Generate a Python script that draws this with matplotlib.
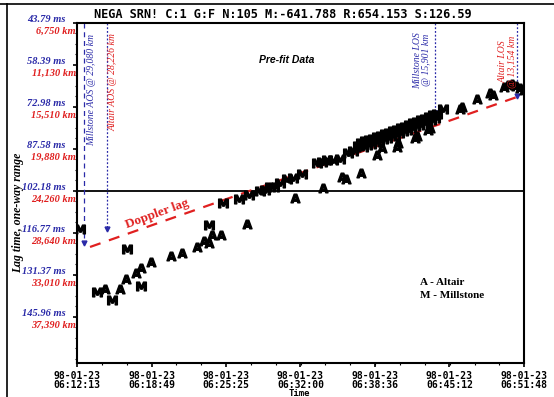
import matplotlib
matplotlib.use("Agg")
import matplotlib.pyplot as plt
from matplotlib.lines import Line2D
from matplotlib.ticker import AutoMinorLocator
import matplotlib.transforms as mtransforms

# time in minutes after 06:00:00, lag in ms
altair_t = [14.70, 16.02, 16.53, 17.41, 17.86, 18.77, 20.57, 21.49, 22.87, 23.46,
            23.91, 24.20, 24.94, 27.24, 31.52, 34.03, 35.66, 36.01, 37.37, 38.76,
            39.20, 40.53, 40.64, 42.15, 42.30, 43.33, 43.48, 46.13, 46.28, 47.61,
            48.79, 49.08, 50.03, 50.38, 50.74, 51.09, 51.45, 51.80]
altair_ms = [136.26, 136.26, 132.88, 130.69, 128.85, 126.77, 124.78, 123.64, 121.55, 119.47,
             120.37, 117.49, 117.49, 113.66, 104.73, 101.25, 97.22, 98.02, 96.04, 89.68,
             87.35, 86.79, 85.61, 83.87, 83.07, 80.99, 80.39, 73.79, 72.89, 70.31,
             68.23, 68.82, 66.04, 65.34, 64.99, 65.69, 66.39, 67.08]

millstone_t = [12.48, 13.96, 15.34, 16.62, 17.86, 23.91, 25.17, 26.56, 27.47, 28.42,
               28.86, 29.31, 29.69, 30.19, 30.79, 31.37, 32.11, 33.44, 33.89, 34.33,
               34.91, 35.51, 36.24, 36.68,
               37.10, 37.37, 37.54, 37.72, 37.90, 38.07, 38.25, 38.43, 38.61, 38.78,
               38.96, 39.14, 39.31, 39.49, 39.67, 39.85, 40.02, 40.20, 40.38, 40.55,
               40.73, 40.91, 41.08, 41.26, 41.44, 41.62, 41.79, 41.97, 42.15, 42.32,
               42.50, 42.68, 42.86, 43.03, 43.21, 43.39, 43.56, 43.74, 43.92, 44.09,
               44.65]
millstone_ms = [115.40, 137.40, 140.08, 122.46, 135.21, 114.01, 106.47, 104.97, 103.58, 102.19,
                101.84, 100.90, 100.69, 99.51, 98.02, 97.77, 96.28, 92.56, 92.00, 91.41,
                91.41, 91.17, 88.88, 88.18,
                86.55, 85.50, 86.89, 84.81, 86.20, 84.46, 85.85, 84.11, 85.16, 83.42,
                84.81, 83.07, 84.11, 82.38, 83.77, 82.03, 83.07, 81.33, 82.72, 80.99,
                82.03, 80.29, 81.33, 79.94, 80.99, 79.25, 80.29, 78.55, 79.59, 78.20,
                79.25, 77.51, 78.55, 77.16, 77.86, 76.47, 77.51, 75.77, 76.81, 75.42,
                73.79]

doppler_t = [13.37, 51.18]
doppler_ms = [121.66, 69.51]

ytick_ms = [43.79, 58.39, 72.98, 87.58, 102.18, 116.77, 131.37, 145.96]
ytick_km = ["6,750 km", "11,130 km", "15,510 km", "19,880 km", "24,260 km",
            "28,640 km", "33,010 km", "37,390 km"]
xtick_times = ["06:12:13", "06:18:49", "06:25:25", "06:32:00", "06:38:36", "06:45:12", "06:51:48"]

# events: label, time, arrow end (ms), text colour, line style
event_labels = ["Millstone AOS @ 29,080 km", "Altair AOS @ 28,226 km",
                "Millstone LOS\n@ 15,901 km", "Altair LOS\n@ 13,154 km"]
event_t = [12.84, 14.87, 43.92, 51.18]
event_end = [120.27, 115.40, 75.07, 69.17]
event_text_t = [13.50, 15.42, 42.77, 50.38]
event_text_ms = [67.1, 64.3, 56.7, 57.4]
event_colors = ["#2a2aa8", "#e02020", "#2a2aa8", "#e02020"]
event_styles = [(0, (4, 3)), (0, (1.5, 1.5)), (0, (1.5, 1.5)), (0, (1.5, 1.5))]


def to_min(s):
    h, m, sec = [int(v) for v in s.split(":")]
    return (h - 6) * 60 + m + sec / 60.0


blue = "#2a2aa8"
red = "#e02020"
serif = "Liberation Serif"
mono = "DejaVu Sans Mono"

fig = plt.figure(figsize=(5.54, 3.97), dpi=100)
ax = fig.add_axes([77 / 554, 1 - 363 / 397, 447 / 554, 340 / 397])

xt = [to_min(s) for s in xtick_times]
ax.set_xlim(xt[0], xt[-1])
ax.set_ylim(162.0, 43.79)

ax.axhline(102.18, color="black", lw=1.3)

ax.plot(doppler_t, doppler_ms, color=red, lw=1.6, dashes=(5, 4))

for lab, t, yend, tt, ty, c, ls in zip(event_labels, event_t, event_end, event_text_t,
                                       event_text_ms, event_colors, event_styles):
    ax.plot([t, t], [43.79, yend], color=blue, lw=0.9, linestyle=ls)
    ax.plot([t], [yend], marker="v", color=blue, ms=3.5)
    ax.text(tt, ty, lab, rotation=90, color=c, fontsize=7, family=serif, style="italic",
            ha="center", va="center", multialignment="center", linespacing=1.1)

ax.plot(altair_t, altair_ms, linestyle="none", marker=r"$\mathbf{A}$", color="black", ms=6.5)
ax.plot(millstone_t, millstone_ms, linestyle="none", marker=r"$\mathbf{M}$", color="black", ms=7)

ax.text(19.3, 110.2, "Doppler lag", rotation=20, color=red, fontsize=9.5, family=serif,
        weight="bold", ha="center", va="center")
ax.text(0.47, 0.891, "Pre-fit Data", transform=ax.transAxes, fontsize=7.5,
        family="Liberation Sans", weight="bold", style="italic", ha="center", va="center")
ax.text(0.767, 0.238, "A - Altair", transform=ax.transAxes, fontsize=8, family=serif,
        weight="bold", ha="left", va="center")
ax.text(0.767, 0.200, "M - Millstone", transform=ax.transAxes, fontsize=8, family=serif,
        weight="bold", ha="left", va="center")

# y tick labels in two colours
ax.set_yticks(ytick_ms)
ax.set_yticklabels([])
ax.yaxis.set_minor_locator(AutoMinorLocator(4))
trans = mtransforms.blended_transform_factory(ax.transAxes, ax.transData)
up = mtransforms.ScaledTranslation(0, 2.2 / 72, fig.dpi_scale_trans)
down = mtransforms.ScaledTranslation(0, -5.8 / 72, fig.dpi_scale_trans)
for v, km in zip(ytick_ms, ytick_km):
    ax.text(-0.026, v, "%.2f ms" % v, transform=trans + up, color=blue, fontsize=7.5,
            family=serif, style="italic", weight="bold", ha="right", va="center")
    ax.text(-0.002, v, km, transform=trans + down, color=red, fontsize=7.5,
            family=serif, style="italic", weight="bold", ha="right", va="center")

ax.set_xticks(xt)
ax.set_xticklabels(["98-01-23\n" + s for s in xtick_times], family=mono, weight="bold",
                   fontsize=7, linespacing=0.95)
ax.xaxis.set_minor_locator(AutoMinorLocator(3))
ax.tick_params(axis="both", which="major", direction="out", length=3, width=1.2, pad=2.5)
ax.tick_params(axis="both", which="minor", direction="out", length=1.5, width=0.8)
for sp in ax.spines.values():
    sp.set_linewidth(1.5)

fig.text(18 / 554, 1 - 213 / 397, "Lag time, one-way range", rotation=90, fontsize=8.5,
         family=serif, style="italic", weight="bold", ha="center", va="center")
fig.text(0.54, 1 - 389.5 / 397, "Time", family=mono, weight="bold", fontsize=6.5,
         ha="center", va="top")
fig.text(283 / 554, 1 - 14 / 397, "NEGA SRN! C:1 G:F N:105 M:-641.788 R:654.153 S:126.59",
         family=mono, weight="bold", fontsize=8.6, ha="center", va="center")

# scan frame
fig.add_artist(Line2D([0, 1], [1 - 4 / 397, 1 - 4 / 397], color="black", lw=1.2))
fig.add_artist(Line2D([7 / 554, 7 / 554], [0, 1 - 4 / 397], color="black", lw=1.2))

fig.savefig("out.png", dpi=100)
